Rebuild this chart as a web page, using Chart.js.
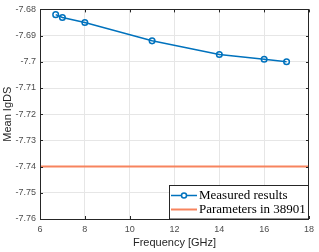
<!DOCTYPE html>
<html><head><meta charset="utf-8">
<script src="https://cdn.jsdelivr.net/npm/chart.js@4"></script>
<style>html,body{margin:0;padding:0;background:#fff}#c{display:block}</style>
</head><body>
<canvas id="c" width="319" height="252"></canvas>
<script>
const freqGHz = [6.7, 7, 8, 11, 14, 16, 17];
const measured = [-7.682, -7.6831, -7.685, -7.692, -7.6972, -7.699, -7.700];
const paramX = [6, 18];
const paramY = [-7.74, -7.74];
const seriesNames = ['Measured results', 'Parameters in 38901'];
const xTicks = [6, 8, 10, 12, 14, 16, 18];
const yTicks = [-7.76, -7.75, -7.74, -7.73, -7.72, -7.71, -7.70, -7.69, -7.68];
const xTitle = 'Frequency [GHz]';
const yTitle = 'Mean IgDS';

const BLUE = '#0072BD', ORANGE = '#F7845E';

const legendPlugin = {
  id: 'boxLegend',
  afterDraw(chart) {
    const ctx = chart.ctx, a = chart.chartArea;
    // axis box
    ctx.save();
    ctx.strokeStyle = '#262626'; ctx.lineWidth = 1;
    ctx.strokeRect(Math.round(a.left) + 0.5, Math.round(a.top) + 0.5, Math.round(a.right - a.left) - 1, Math.round(a.bottom - a.top));
    // ticks inward
    const xs = chart.scales.x, ys = chart.scales.y;
    ctx.beginPath();
    xTicks.forEach(v => { const px = Math.round(xs.getPixelForValue(v)) + 0.5;
      ctx.moveTo(px, a.bottom); ctx.lineTo(px, a.bottom - 3); ctx.moveTo(px, a.top); ctx.lineTo(px, a.top + 3); });
    yTicks.forEach(v => { const py = Math.round(ys.getPixelForValue(v)) + 0.5;
      ctx.moveTo(a.left, py); ctx.lineTo(a.left + 3, py); ctx.moveTo(a.right, py); ctx.lineTo(a.right - 3, py); });
    ctx.stroke();
    // legend box
    const bx = 169.5, by = 185.5, bw = a.right - 169.5 - 0.5, bh = a.bottom - 185.5;
    ctx.fillStyle = '#fff'; ctx.fillRect(bx, by, bw, bh);
    ctx.strokeStyle = '#262626'; ctx.strokeRect(bx, by, bw, bh);
    ctx.font = '13px "Liberation Serif", "Times New Roman", serif';
    ctx.textBaseline = 'middle'; ctx.fillStyle = '#000';
    const rows = [195.5, 209.5];
    // row 1
    ctx.strokeStyle = BLUE; ctx.lineWidth = 1.5;
    ctx.beginPath(); ctx.moveTo(171, rows[0]); ctx.lineTo(197, rows[0]); ctx.stroke();
    ctx.beginPath(); ctx.arc(184, rows[0], 2.5, 0, Math.PI * 2); ctx.fillStyle = '#fff'; ctx.fill(); ctx.stroke();
    ctx.fillStyle = '#000'; ctx.fillText(chart.data.datasets[0].label, 199, rows[0] + 0.5);
    // row 2
    ctx.strokeStyle = ORANGE; ctx.lineWidth = 2;
    ctx.beginPath(); ctx.moveTo(171, rows[1]); ctx.lineTo(197, rows[1]); ctx.stroke();
    ctx.fillText(chart.data.datasets[1].label, 199, rows[1] + 0.5);
    // titles
    ctx.font = '11px "Liberation Sans", Arial, sans-serif';
    ctx.fillStyle = '#262626'; ctx.textAlign = 'center';
    ctx.fillText(xTitle, (a.left + a.right) / 2, 243);
    ctx.save(); ctx.translate(8, (a.top + a.bottom) / 2); ctx.rotate(-Math.PI / 2);
    ctx.fillText(yTitle, 0, 0); ctx.restore();
    ctx.restore();
  }
};

new Chart(document.getElementById('c'), {
  type: 'line',
  data: {
    datasets: [
      { label: seriesNames[0], data: freqGHz.map((x, i) => ({ x, y: measured[i] })),
        borderColor: BLUE, backgroundColor: '#fff', borderWidth: 1.5,
        pointRadius: 2.8, pointBorderWidth: 1.5, pointBackgroundColor: 'rgba(255,255,255,0)', pointBorderColor: BLUE, tension: 0 },
      { label: seriesNames[1], data: paramX.map((x, i) => ({ x, y: paramY[i] })),
        borderColor: ORANGE, borderWidth: 2, pointRadius: 0, tension: 0 }
    ]
  },
  options: {
    responsive: false, animation: false, devicePixelRatio: 1,
    layout: { padding: { left: 0, right: 8, top: 6, bottom: 0 } },
    plugins: { legend: { display: false }, tooltip: { enabled: false } },
    scales: {
      x: { type: 'linear', min: 6, max: 18,
        afterFit(s) { s.height = 33; },
        afterBuildTicks(s) { s.ticks = xTicks.map(v => ({ value: v })); },
        grid: { color: '#e6e6e6', drawTicks: false },
        border: { display: false },
        ticks: { padding: 5, color: '#4d4d4d', font: { size: 9, family: '"Liberation Sans", Arial, sans-serif' }, maxRotation: 0 } },
      y: { type: 'linear', min: -7.76, max: -7.68,
        afterFit(s) { s.width = 40; },
        afterBuildTicks(s) { s.ticks = yTicks.map(v => ({ value: v })); },
        grid: { color: '#e6e6e6', drawTicks: false },
        border: { display: false },
        ticks: { padding: 4, color: '#4d4d4d', font: { size: 9, family: '"Liberation Sans", Arial, sans-serif' },
          callback: v => String(parseFloat(v.toFixed(2))) } }
    }
  },
  plugins: [legendPlugin]
});
</script>
</body></html>
